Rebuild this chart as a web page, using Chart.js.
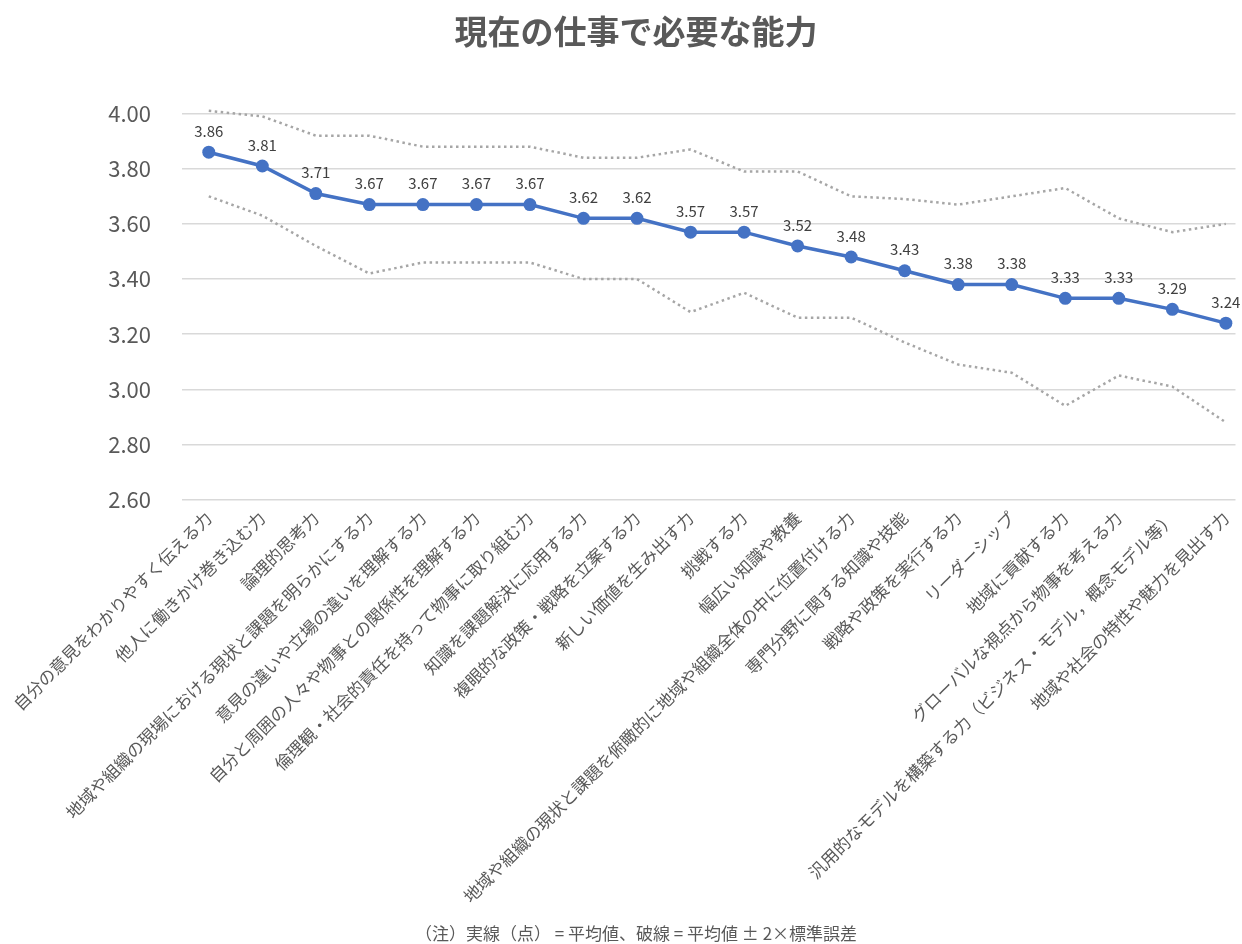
<!DOCTYPE html>
<html><head><meta charset="utf-8">
<script src="https://cdn.jsdelivr.net/npm/chart.js@4"></script>
<style>html,body{margin:0;padding:0;background:#fff;}#wrap{width:1242px;height:944px;}</style>
</head><body><div id="wrap"><canvas id="c" width="1242" height="944"></canvas></div>
<script>
const categories = [
  "自分の意見をわかりやすく伝える力",
  "他人に働きかけ巻き込む力",
  "論理的思考力",
  "地域や組織の現場における現状と課題を明らかにする力",
  "意見の違いや立場の違いを理解する力",
  "自分と周囲の人々や物事との関係性を理解する力",
  "倫理観・社会的責任を持って物事に取り組む力",
  "知識を課題解決に応用する力",
  "複眼的な政策・戦略を立案する力",
  "新しい価値を生み出す力",
  "挑戦する力",
  "幅広い知識や教養",
  "地域や組織の現状と課題を俯瞰的に地域や組織全体の中に位置付ける力",
  "専門分野に関する知識や技能",
  "戦略や政策を実行する力",
  "リーダーシップ",
  "地域に貢献する力",
  "グローバルな視点から物事を考える力",
  "汎用的なモデルを構築する力（ビジネス・モデル，概念モデル等）",
  "地域や社会の特性や魅力を見出す力"
];
const meanValues = [3.86,3.81,3.71,3.67,3.67,3.67,3.67,3.62,3.62,3.57,3.57,3.52,3.48,3.43,3.38,3.38,3.33,3.33,3.29,3.24];
const upperValues = [4.01,3.99,3.92,3.92,3.88,3.88,3.88,3.84,3.84,3.87,3.79,3.79,3.70,3.69,3.67,3.70,3.73,3.62,3.57,3.60];
const lowerValues = [3.70,3.63,3.52,3.42,3.46,3.46,3.46,3.40,3.40,3.28,3.35,3.26,3.26,3.17,3.09,3.06,2.94,3.05,3.01,2.88];
const yTicks = [2.6,2.8,3.0,3.2,3.4,3.6,3.8,4.0];
const titleText = "現在の仕事で必要な能力";
const noteText = "（注）実線（点） = 平均値、破線 = 平均値 ± 2×標準誤差";

const FONT = "'Noto Sans CJK JP', 'Noto Sans', sans-serif";
const toXY = arr => arr.map((v,i)=>({x:i,y:v}));

const valueLabels = {
  id:'valueLabels',
  afterDatasetsDraw(chart){
    const ctx = chart.ctx;
    const meta = chart.getDatasetMeta(0);
    ctx.save();
    ctx.font = "15px " + FONT;
    ctx.fillStyle = "#404040";
    ctx.textAlign = "center";
    ctx.textBaseline = "middle";
    meta.data.forEach((pt,i)=>{
      ctx.fillText(meanValues[i].toFixed(2), pt.x, pt.y - 21);
    });
    ctx.restore();
  }
};

new Chart(document.getElementById('c'), {
  type:'line',
  data:{
    datasets:[
      {label:'平均値', data:toXY(meanValues), borderColor:'#4472C4', backgroundColor:'#4472C4', borderWidth:3.5,
       pointRadius:6.5, pointBorderWidth:0, pointBackgroundColor:'#4472C4', order:0, tension:0, clip:false},
      {label:'上限', data:toXY(upperValues), borderColor:'#a6a6a6', borderWidth:2.5, borderDash:[2.5,3.5],
       pointRadius:0, order:1, tension:0, clip:false},
      {label:'下限', data:toXY(lowerValues), borderColor:'#a6a6a6', borderWidth:2.5, borderDash:[2.5,3.5],
       pointRadius:0, order:1, tension:0, clip:false}
    ]
  },
  options:{
    responsive:false,
    animation:false,
    events:[],
    layout:{padding:{left:30,right:0,top:0,bottom:0}},
    plugins:{
      legend:{display:false},
      tooltip:{enabled:false},
      title:{display:true, text:titleText, color:'#595959',
        font:{family:FONT, size:33, weight:'bold'}, padding:{top:12,bottom:62}},
      subtitle:{display:true, position:'bottom', text:noteText, color:'#595959',
        font:{family:FONT, size:17}, padding:{top:0,bottom:0}}
    },
    scales:{
      x:{
        type:'linear', min:-0.5, max:19.18,
        afterBuildTicks(axis){ axis.ticks = categories.map((_,i)=>({value:i})); },
        afterFit(axis){ axis.height = 424; axis.paddingRight = 0; axis.paddingLeft = 0; },
        grid:{display:false, drawTicks:false},
        border:{display:false},
        ticks:{autoSkip:false, minRotation:45, maxRotation:45, padding:8, color:'#595959',
          font:{family:FONT, size:17},
          callback:(v)=> categories[v] !== undefined ? categories[v] : ''}
      },
      y:{
        min:2.6, max:4.0,
        afterBuildTicks(axis){ axis.ticks = yTicks.map(v=>({value:v})); },
        afterFit(axis){ axis.width = 152; },
        grid:{color:'#d9d9d9', lineWidth:1.5, drawTicks:false},
        border:{display:false},
        ticks:{padding:31, color:'#595959', font:{family:FONT, size:22},
          callback:(v)=> Number(v).toFixed(2)}
      }
    }
  },
  plugins:[valueLabels]
});
</script></body></html>
